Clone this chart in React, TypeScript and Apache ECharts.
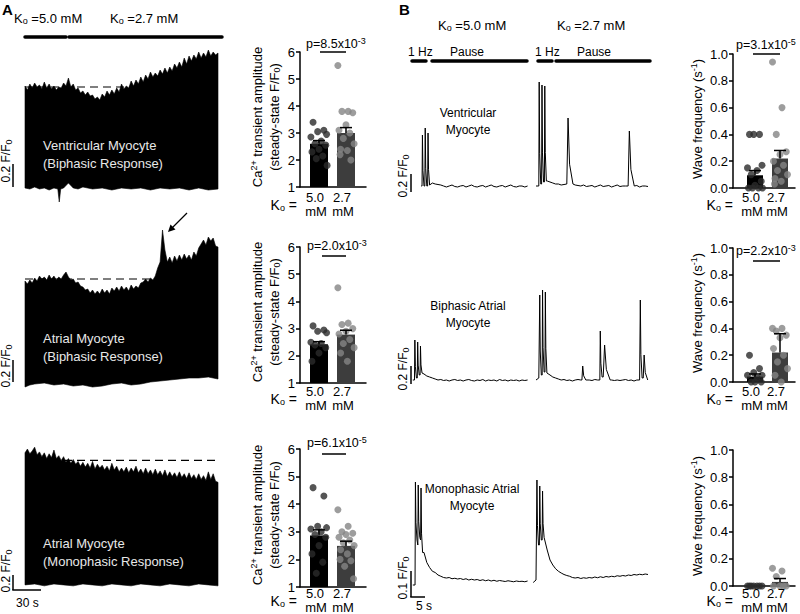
import { useEffect, useRef } from "react";
import * as echarts from "echarts";

const FONT = "'Liberation Sans', Arial, Helvetica, sans-serif";

/* ================= Panel A: long recordings (F/F0 envelopes) ================= */
const ENV_STEP = 2.5; // seconds between upper-envelope samples (0..200 s)
const ventUpper = [
  1.51, 1.49, 1.52, 1.5, 1.525, 1.505, 1.515, 1.495, 1.53, 1.5,
  1.52, 1.495, 1.51, 1.49, 1.505, 1.5, 1.525, 1.51, 1.55, 1.505,
  1.52, 1.49, 1.5, 1.475, 1.485, 1.465, 1.48, 1.46, 1.465, 1.445,
  1.455, 1.44, 1.47, 1.455, 1.485, 1.465, 1.49, 1.47, 1.5, 1.48,
  1.52, 1.495, 1.51, 1.5, 1.535, 1.51, 1.54, 1.52, 1.555, 1.53,
  1.565, 1.545, 1.58, 1.555, 1.575, 1.56, 1.59, 1.57, 1.6, 1.575,
  1.605, 1.585, 1.62, 1.6, 1.63, 1.605, 1.65, 1.62, 1.66, 1.635,
  1.665, 1.645, 1.68, 1.65, 1.675, 1.655, 1.69, 1.66, 1.68, 1.665,
  1.675,
];
const ventLower = [
  [0, 1.0], [5, 0.995], [10, 1.005], [15, 0.995], [20, 1.0], [25, 0.99], [30, 1.0], [34, 0.995],
  [35.5, 0.93], [37, 0.995], [40, 1.0], [45, 1.025], [47, 1.015], [50, 1.0], [55, 0.995], [60, 1.005],
  [70, 0.995], [80, 1.0], [90, 0.99], [100, 1.0], [110, 0.995], [120, 1.0], [130, 0.99], [140, 1.0],
  [150, 0.995], [160, 1.0], [170, 0.99], [180, 1.0], [190, 0.99], [200, 0.995],
];
const ventRef = 1.505;

const atrBiUpper = [
  1.505, 1.49, 1.51, 1.495, 1.52, 1.505, 1.53, 1.515, 1.525, 1.51,
  1.535, 1.515, 1.53, 1.51, 1.525, 1.515, 1.535, 1.55, 1.525, 1.51,
  1.515, 1.495, 1.5, 1.48, 1.475, 1.46, 1.465, 1.445, 1.46, 1.44,
  1.455, 1.44, 1.465, 1.445, 1.46, 1.44, 1.47, 1.455, 1.475, 1.455,
  1.48, 1.46, 1.475, 1.455, 1.485, 1.465, 1.48, 1.47, 1.495, 1.5,
  1.515, 1.5, 1.52, 1.51, 1.53, 1.57, 1.6, 1.76, 1.66, 1.6,
  1.625, 1.595, 1.63, 1.605, 1.635, 1.61, 1.64, 1.615, 1.635, 1.61,
  1.65, 1.63, 1.67, 1.69, 1.71, 1.685, 1.725, 1.705, 1.72, 1.68,
  1.675,
];
const atrBiLower = [
  [0, 0.975], [5, 0.985], [10, 0.99], [20, 0.995], [30, 0.985], [40, 0.99], [50, 0.98], [60, 0.985],
  [70, 0.975], [80, 0.98], [90, 0.99], [100, 0.995], [110, 0.985], [120, 0.99], [130, 1.0], [140, 1.005],
  [150, 1.01], [160, 1.015], [170, 1.02], [180, 1.02], [190, 1.025], [200, 1.015],
];
const atrBiRef = 1.515;

const atrMonoUpper = [
  1.685, 1.705, 1.68, 1.695, 1.715, 1.675, 1.69, 1.665, 1.685, 1.655,
  1.68, 1.66, 1.7, 1.655, 1.67, 1.645, 1.665, 1.635, 1.655, 1.63,
  1.65, 1.625, 1.64, 1.615, 1.635, 1.61, 1.63, 1.605, 1.64, 1.6,
  1.625, 1.605, 1.62, 1.595, 1.615, 1.59, 1.63, 1.595, 1.615, 1.585,
  1.605, 1.585, 1.61, 1.58, 1.605, 1.585, 1.615, 1.58, 1.6, 1.575,
  1.605, 1.575, 1.595, 1.57, 1.6, 1.57, 1.59, 1.565, 1.595, 1.56,
  1.585, 1.56, 1.58, 1.555, 1.585, 1.555, 1.575, 1.55, 1.58, 1.55,
  1.57, 1.545, 1.575, 1.545, 1.565, 1.54, 1.585, 1.545, 1.575, 1.535,
  1.53,
];
const atrMonoLower = [
  [0, 0.99], [10, 0.995], [20, 0.985], [30, 0.995], [40, 0.99], [50, 0.985], [60, 0.995], [70, 0.99],
  [80, 0.985], [90, 0.995], [100, 0.99], [110, 0.985], [120, 0.995], [130, 0.99], [140, 0.985],
  [150, 0.995], [160, 0.99], [170, 0.985], [180, 0.995], [190, 0.99], [200, 0.985],
];
const atrMonoRef = 1.645;

/* ================= Panel B: 1 Hz pacing then pause (F/F0, 1 s baseline samples) ================= */
const bVent1T0 = 4;
const bVent1Base = [
  1.0, 1.0, 1.0, 1.01, 1.03, 1.02, 1.015, 1.01, 1.0, 0.99, 1.0, 1.01, 0.995, 0.99, 1.0, 1.005, 0.99, 1.0, 1.01, 0.995,
  0.99, 1.0, 1.005, 0.99, 1.0, 1.01, 0.995, 0.99, 1.0, 1.005, 0.99, 1.0, 1.01, 0.995, 0.99, 1.0, 1.0, 0.99, 1.0,
];
const bVent1EvT = [4.3, 5.3, 6.3];
const bVent1EvPeak = [1.51, 1.58, 1.53];
const bVent1EvDur = [0.7, 0.7, 0.7];
const bVent2T0 = 45;
const bVent2Base = [
  1.0, 1.0, 1.02, 1.04, 1.05, 1.04, 1.03, 1.02, 1.02, 1.01, 1.015, 1.02, 1.03, 1.02, 1.01, 1.005, 1.0, 1.01, 0.995, 1.0,
  1.005, 0.99, 1.0, 1.01, 0.995, 1.0, 1.005, 0.99, 1.0, 1.01, 0.995, 1.0, 1.0, 1.01, 0.995, 1.0, 1.005, 0.99, 1.0, 1.0,
  0.995,
];
const bVent2EvT = [46, 47, 48, 56, 77.9];
const bVent2EvPeak = [2.04, 2.01, 2.0, 1.68, 1.55];
const bVent2EvDur = [0.7, 0.7, 0.7, 2.2, 2.2];

const bBi1T0 = 1;
const bBi1Base = [
  1.0, 1.02, 1.05, 1.07, 1.06, 1.04, 1.03, 1.02, 1.01, 1.0, 1.005, 0.995, 1.0, 0.99, 1.0, 1.005, 0.995, 1.0, 0.99, 1.0,
  1.005, 0.995, 0.99, 1.0, 0.995, 1.005, 0.99, 1.0, 0.995, 1.0, 0.99, 1.005, 0.995, 1.0, 0.99, 1.0, 0.995, 1.0, 0.99, 1.0,
  0.995, 1.0,
];
const bBi1EvT = [1.6, 2.6, 3.6];
const bBi1EvPeak = [1.4, 1.38, 1.34];
const bBi1EvDur = [0.7, 0.7, 0.7];
const bBi2T0 = 45;
const bBi2Base = [
  1.0, 1.02, 1.05, 1.08, 1.07, 1.05, 1.03, 1.02, 1.01, 1.0, 1.005, 0.995, 1.0, 0.99, 1.0, 1.005, 1.0, 0.995, 1.0, 1.0,
  0.995, 1.005, 1.0, 1.02, 1.03, 1.02, 1.01, 1.0, 0.995, 1.0, 0.995, 1.0, 1.005, 0.995, 1.0, 0.99, 1.0, 1.0, 1.02, 1.01,
  1.0,
];
const bBi2EvT = [46.2, 47.2, 48.2, 61.4, 67.8, 69.0, 82.1, 83.3];
const bBi2EvPeak = [1.85, 1.9, 1.88, 1.14, 1.49, 1.35, 1.8, 1.25];
const bBi2EvDur = [0.7, 0.7, 0.7, 1.4, 0.8, 2.5, 0.8, 1.6];

const bMono1T0 = 1;
const bMono1Base = [
  1.02, 1.18, 1.2, 1.21, 1.15, 1.11, 1.09, 1.075, 1.07, 1.06, 1.055, 1.05,
  1.048, 1.05, 1.045, 1.047, 1.044, 1.046, 1.042, 1.045, 1.04, 1.043,
  1.04, 1.042, 1.038, 1.041, 1.037, 1.04, 1.036, 1.039, 1.035, 1.038,
  1.036, 1.034, 1.037, 1.035, 1.033, 1.036, 1.034, 1.035, 1.033, 1.036,
];
const bMono1EvT = [1.8, 2.8, 3.8];
const bMono1EvPeak = [1.432, 1.42, 1.408];
const bMono1EvDur = [0.7, 0.7, 0.7];
const bMono2T0 = 44;
const bMono2Base = [
  1.03, 1.04, 1.18, 1.2, 1.21, 1.16, 1.12, 1.1, 1.085, 1.075, 1.068, 1.062, 1.058, 1.055, 1.05,
  1.048, 1.05, 1.046, 1.049, 1.047, 1.05, 1.048, 1.052, 1.049, 1.053,
  1.05, 1.054, 1.052, 1.055, 1.053, 1.057, 1.055, 1.058, 1.056, 1.06,
  1.058, 1.062, 1.06, 1.063, 1.061, 1.064, 1.062,
];
const bMono2EvT = [45.2, 46.2, 47.2];
const bMono2EvPeak = [1.44, 1.416, 1.396];
const bMono2EvDur = [0.7, 0.7, 0.7];

/* ================= Summary data ================= */
const groupLabels = ["5.0", "2.7"];
const ampVent50 = [3.4, 3.1, 3.05, 2.95, 2.85, 2.7, 2.6, 2.55, 2.4, 2.3, 2.15, 2.05, 1.8];
const ampVent27 = [5.5, 3.8, 3.8, 3.75, 3.3, 3.1, 3.0, 2.8, 2.6, 2.4, 2.35, 2.2, 2.0];
const ampVentMean = [2.6, 3.0];
const ampVentSem = [0.12, 0.2];
const ampAtrBi50 = [3.1, 2.95, 2.9, 2.85, 2.5, 2.45, 2.4, 2.3, 2.1, 1.8];
const ampAtrBi27 = [4.5, 3.2, 3.15, 3.0, 2.9, 2.8, 2.6, 2.45, 2.3, 2.1, 1.8];
const ampAtrBiMean = [2.42, 2.78];
const ampAtrBiSem = [0.1, 0.16];
const ampAtrMono50 = [4.6, 4.3, 3.2, 3.15, 3.1, 3.0, 2.9, 2.8, 2.5, 2.2, 1.9, 1.5];
const ampAtrMono27 = [3.8, 3.2, 3.0, 2.95, 2.9, 2.8, 2.7, 2.6, 2.5, 2.35, 2.2, 2.0, 1.95, 1.75, 1.3];
const ampAtrMonoMean = [2.87, 2.49];
const ampAtrMonoSem = [0.2, 0.17];

const freqVent50 = [0.4, 0.4, 0.4, 0.17, 0.15, 0.13, 0.1, 0.05, 0.02, 0, 0, 0, 0];
const freqVent27 = [0.94, 0.6, 0.4, 0.27, 0.25, 0.2, 0.17, 0.13, 0.1, 0.07, 0.05, 0.03];
const freqVentMean = [0.095, 0.22];
const freqVentSem = [0.035, 0.06];
const freqAtrBi50 = [0.2, 0.1, 0.07, 0.05, 0.05, 0.03, 0, 0, 0];
const freqAtrBi27 = [0.4, 0.4, 0.38, 0.35, 0.33, 0.25, 0.2, 0.15, 0.1, 0.05, 0];
const freqAtrBiMean = [0.04, 0.22];
const freqAtrBiSem = [0.02, 0.14];
const freqAtrMono50 = [0, 0, 0, 0, 0, 0, 0];
const freqAtrMono27 = [0.13, 0.11, 0.07, 0, 0, 0, 0];
const freqAtrMonoMean = [0, 0.03];
const freqAtrMonoSem = [0, 0.025];

const pAmp = [["8.5", "-3"], ["2.0", "-3"], ["6.1", "-5"]];
const pFreq = [["3.1", "-5"], ["2.2", "-3"]];

/* ================= Layout / style ================= */
const JITTER = [-0.22, 0.18, -0.05, 0.28, -0.3, 0.08, -0.15, 0.25, 0.0, -0.26, 0.14, -0.1, 0.3, -0.2, 0.05];
const RICH = {
  sub: { fontSize: 9, fontFamily: FONT, fill: "#000", padding: [5, 0, 0, 0] },
  sup: { fontSize: 9, fontFamily: FONT, fill: "#000", padding: [0, 0, 6, 0] },
};

function buildSegment(t0: number, base: number[], evT: number[], evPeak: number[], evDur: number[]) {
  const pts: number[][] = [];
  const clampIdx = (i: number) => Math.max(0, Math.min(base.length - 1, i));
  base.forEach((v, i) => {
    const t = t0 + i;
    if (evT.some((e, j) => t > e && t < e + evDur[j])) return;
    pts.push([t, v]);
  });
  evT.forEach((e, j) => {
    const d = evDur[j];
    const b0 = base[clampIdx(Math.floor(e - t0 + 1e-9))];
    const b1 = base[clampIdx(Math.round(e + d - t0))];
    const p = evPeak[j];
    pts.push([e, b0], [e + d * 0.2, p], [e + d * 0.45, b1 + (p - b1) * 0.3], [e + d, b1]);
  });
  pts.sort((a, b) => a[0] - b[0]);
  return pts;
}

function txt(x: number, y: number, text: string, opts: any = {}) {
  const align = opts.align || "left";
  return {
    type: "text",
    x,
    y,
    rotation: opts.rotation || 0,
    z: 50,
    silent: true,
    style: {
      text,
      fill: opts.fill || "#000",
      fontSize: opts.fontSize || 13,
      fontWeight: opts.fontWeight || "normal",
      fontFamily: FONT,
      align,
      verticalAlign: "middle",
      textAlign: align,
      textVerticalAlign: "middle",
      rich: RICH,
    },
  };
}
function seg(x1: number, y1: number, x2: number, y2: number, w = 1.5) {
  return { type: "line", z: 50, silent: true, shape: { x1, y1, x2, y2 }, style: { stroke: "#000", lineWidth: w, lineCap: "butt" } };
}
function thick(x1: number, x2: number, y: number) {
  return { type: "line", z: 50, silent: true, shape: { x1, y1: y, x2, y2: y }, style: { stroke: "#000", lineWidth: 3.5, lineCap: "round" } };
}

function buildOption() {
  const grids: any[] = [];
  const xAxes: any[] = [];
  const yAxes: any[] = [];
  const series: any[] = [];
  const g: any[] = [];

  const traceGrid = (left: number, width: number, xMax: number, basePx: number, k: number, min: number, max: number) => {
    const idx = grids.length;
    grids.push({ left, width, top: basePx - (max - 1) * k, height: (max - min) * k });
    xAxes.push({ gridIndex: idx, type: "value", min: 0, max: xMax, show: false });
    yAxes.push({ gridIndex: idx, type: "value", min, max, show: false });
    return idx;
  };

  const envelope = (gi: number, upper: number[], lower: number[][], refLevel: number) => {
    series.push({
      type: "custom",
      xAxisIndex: gi,
      yAxisIndex: gi,
      data: [[0, 1]],
      z: 2,
      silent: true,
      renderItem: (_p: any, api: any) => {
        const pts = upper.map((v, i) => api.coord([i * ENV_STEP, v]));
        for (let j = lower.length - 1; j >= 0; j--) pts.push(api.coord(lower[j]));
        return { type: "polygon", shape: { points: pts }, style: { fill: "#000", stroke: "#000", lineWidth: 0.6 } };
      },
    });
    series.push({
      type: "line",
      xAxisIndex: gi,
      yAxisIndex: gi,
      data: [[0, refLevel], [200, refLevel]],
      symbol: "none",
      z: 3,
      silent: true,
      lineStyle: { color: "#000", width: 1.2, type: [8, 5] },
    });
  };

  const trace = (gi: number, pts: number[][]) => {
    series.push({
      type: "line",
      xAxisIndex: gi,
      yAxisIndex: gi,
      data: pts,
      symbol: "none",
      silent: true,
      z: 3,
      lineStyle: { color: "#000", width: 1 },
    });
  };

  // Panel A traces
  const gA1 = traceGrid(25, 193, 200, 188, 200, 0.9, 1.75);
  envelope(gA1, ventUpper, ventLower, ventRef);
  const gA2 = traceGrid(25, 193, 200, 382, 200, 0.95, 1.8);
  envelope(gA2, atrBiUpper, atrBiLower, atrBiRef);
  const gA3 = traceGrid(25, 193, 200, 583, 190, 0.95, 1.75);
  envelope(gA3, atrMonoUpper, atrMonoLower, atrMonoRef);

  // Panel B traces
  const gB1 = traceGrid(410, 245, 87.5, 186, 100, 0.85, 2.15);
  trace(gB1, buildSegment(bVent1T0, bVent1Base, bVent1EvT, bVent1EvPeak, bVent1EvDur));
  trace(gB1, buildSegment(bVent2T0, bVent2Base, bVent2EvT, bVent2EvPeak, bVent2EvDur));
  const gB2 = traceGrid(410, 245, 87.5, 380, 100, 0.9, 2.0);
  trace(gB2, buildSegment(bBi1T0, bBi1Base, bBi1EvT, bBi1EvPeak, bBi1EvDur));
  trace(gB2, buildSegment(bBi2T0, bBi2Base, bBi2EvT, bBi2EvPeak, bBi2EvDur));
  const gB3 = traceGrid(410, 245, 87.5, 590, 250, 0.96, 1.5);
  trace(gB3, buildSegment(bMono1T0, bMono1Base, bMono1EvT, bMono1EvPeak, bMono1EvDur));
  trace(gB3, buildSegment(bMono2T0, bMono2Base, bMono2EvT, bMono2EvPeak, bMono2EvDur));

  // Summary charts
  const summary = (
    left: number, width: number, top: number, height: number, c0: number, unit: number,
    yMin: number, yMax: number, interval: number, decimals: number,
    p50: number[], p27: number[], mean: number[], sem: number[], halfW: number
  ) => {
    const idx = grids.length;
    const xMin = (left - c0) / unit;
    grids.push({ left, width, top, height });
    xAxes.push({
      gridIndex: idx, type: "value", min: xMin, max: xMin + width / unit,
      axisLine: { show: true, onZero: false, lineStyle: { color: "#000", width: 1.5 } },
      axisTick: { show: false }, axisLabel: { show: false }, splitLine: { show: false },
    });
    yAxes.push({
      gridIndex: idx, type: "value", min: yMin, max: yMax, interval,
      axisLine: { show: true, onZero: false, lineStyle: { color: "#000", width: 1.5 } },
      axisTick: { show: true, length: 4, lineStyle: { color: "#000", width: 1.5 } },
      axisLabel: { color: "#000", fontSize: 13, fontFamily: FONT, margin: 5, formatter: (v: number) => v.toFixed(decimals) },
      splitLine: { show: false },
    });
    const barColors = ["#000", "#3d3d3d"];
    series.push({
      type: "custom", xAxisIndex: idx, yAxisIndex: idx, silent: true, z: 2,
      data: mean.map((m, i) => [i, m]),
      renderItem: (params: any, api: any) => {
        const x = api.value(0), m = api.value(1);
        const p = api.coord([x, m]);
        const b = api.coord([x, yMin]);
        return { type: "rect", shape: { x: p[0] - halfW, y: p[1], width: 2 * halfW, height: b[1] - p[1] }, style: { fill: barColors[params.dataIndex] } };
      },
    });
    series.push({
      type: "scatter", xAxisIndex: idx, yAxisIndex: idx, silent: true, z: 3, clip: false,
      symbolSize: 7, itemStyle: { color: "#2b2b2b" },
      data: p50.map((v, i) => [JITTER[i % JITTER.length], v]),
    });
    series.push({
      type: "scatter", xAxisIndex: idx, yAxisIndex: idx, silent: true, z: 3, clip: false,
      symbolSize: 7, itemStyle: { color: "#858585" },
      data: p27.map((v, i) => [1 + JITTER[(i + 4) % JITTER.length], v]),
    });
    series.push({
      type: "custom", xAxisIndex: idx, yAxisIndex: idx, silent: true, z: 4,
      data: mean.map((m, i) => [i, m, sem[i]]),
      renderItem: (_p: any, api: any) => {
        const x = api.value(0), m = api.value(1), s = api.value(2);
        if (!(s > 0)) return null;
        const a = api.coord([x, m]);
        const b = api.coord([x, m + s]);
        return {
          type: "group",
          children: [
            { type: "line", shape: { x1: a[0], y1: a[1], x2: b[0], y2: b[1] }, style: { stroke: "#000", lineWidth: 1.5 } },
            { type: "line", shape: { x1: b[0] - 6, y1: b[1], x2: b[0] + 6, y2: b[1] }, style: { stroke: "#000", lineWidth: 1.5 } },
          ],
        };
      },
    });
  };

  summary(300, 66, 52, 135, 319, 27, 1, 6, 1, 0, ampVent50, ampVent27, ampVentMean, ampVentSem, 9);
  summary(300, 66, 247, 136, 319, 27, 1, 6, 1, 0, ampAtrBi50, ampAtrBi27, ampAtrBiMean, ampAtrBiSem, 9);
  summary(300, 66, 449, 138, 319, 27, 1, 6, 1, 0, ampAtrMono50, ampAtrMono27, ampAtrMonoMean, ampAtrMonoSem, 9);
  summary(733, 62, 54, 134, 755, 25, 0, 1, 0.2, 1, freqVent50, freqVent27, freqVentMean, freqVentSem, 8);
  summary(733, 62, 248, 134, 755, 25, 0, 1, 0.2, 1, freqAtrBi50, freqAtrBi27, freqAtrBiMean, freqAtrBiSem, 8);
  summary(733, 62, 450, 136, 755, 25, 0, 1, 0.2, 1, freqAtrMono50, freqAtrMono27, freqAtrMonoMean, freqAtrMonoSem, 8);

  /* ---------- Annotations ---------- */
  g.push(txt(2, 9, "A", { fontSize: 15, fontWeight: "bold" }));
  g.push(txt(399, 9, "B", { fontSize: 15, fontWeight: "bold" }));

  // Panel A header
  g.push(txt(14, 18, "K{sub|o} =5.0 mM"));
  g.push(txt(110, 18, "K{sub|o} =2.7 mM"));
  g.push(thick(25, 66, 37), thick(69, 222, 37));

  // Panel A scale bars
  const rot = { rotation: Math.PI / 2, align: "center", fontSize: 12 };
  g.push(seg(13, 164, 13, 187), txt(6, 161, "0.2 F/F{sub|0}", rot));
  g.push(seg(13, 360, 13, 382), txt(6, 366, "0.2 F/F{sub|0}", rot));
  g.push(seg(13, 575, 13, 590), seg(12.25, 590, 41, 590), txt(6, 571, "0.2 F/F{sub|0}", rot));
  g.push(txt(16, 603, "30 s", { fontSize: 12 }));

  // Panel A labels inside traces
  const white = { fill: "#e8e8e8", fontSize: 13 };
  g.push(txt(43, 145, "Ventricular Myocyte", white), txt(43, 163, "(Biphasic Response)", white));
  g.push(txt(43, 338, "Atrial Myocyte", white), txt(43, 356, "(Biphasic Response)", white));
  g.push(txt(43, 543, "Atrial Myocyte", white), txt(43, 561, "(Monophasic Response)", white));

  // Arrow (middle trace)
  g.push(seg(187, 213, 172, 228, 1.2));
  g.push({ type: "polygon", z: 50, silent: true, shape: { points: [[168, 232], [175.5, 229.5], [170.5, 224.5]] }, style: { fill: "#000" } });

  // Panel B header
  g.push(txt(438, 25, "K{sub|o} =5.0 mM"), txt(557, 25, "K{sub|o} =2.7 mM"));
  g.push(txt(408, 52, "1 Hz", { fontSize: 12 }), txt(450, 52, "Pause", { fontSize: 12 }));
  g.push(txt(535, 52, "1 Hz", { fontSize: 12 }), txt(577, 52, "Pause", { fontSize: 12 }));
  g.push(thick(412, 426, 61), thick(432, 527, 61), thick(538, 552, 61), thick(556, 650, 61));

  // Panel B scale bars (rotated labels left of the bars)
  g.push(seg(411, 174, 411, 192), txt(403, 176, "0.2 F/F{sub|0}", rot));
  g.push(seg(411, 366, 411, 384), txt(403, 369, "0.2 F/F{sub|0}", rot));
  g.push(seg(411, 571, 411, 597), seg(410.25, 597, 425, 597), txt(403, 578, "0.1 F/F{sub|0}", rot));
  g.push(txt(416, 606, "5 s", { fontSize: 12 }));

  // Panel B cell labels
  g.push(txt(468, 113, "Ventricular", { align: "center", fontSize: 12 }), txt(468, 130, "Myocyte", { align: "center", fontSize: 12 }));
  g.push(txt(468, 306, "Biphasic Atrial", { align: "center", fontSize: 12 }), txt(468, 323, "Myocyte", { align: "center", fontSize: 12 }));
  g.push(txt(472, 489, "Monophasic Atrial", { align: "center", fontSize: 12 }), txt(472, 506, "Myocyte", { align: "center", fontSize: 12 }));

  // Summary chart titles, x labels and p values
  const ampTitleY = [117, 312, 515];
  const freqTitleY = [119, 313, 516];
  const labelRowY = [197, 391, 593];
  ampTitleY.forEach((y) => {
    g.push(txt(257, y, "Ca{sup|2+} transient amplitude", { rotation: Math.PI / 2, align: "center" }));
    g.push(txt(274, y, "(steady-state F/F{sub|0})", { rotation: Math.PI / 2, align: "center" }));
  });
  freqTitleY.forEach((y) => g.push(txt(697, y, "Wave frequency (s{sup|-1})", { rotation: Math.PI / 2, align: "center" })));
  const xLabels = (c0: number, c1: number, y: number) => {
    g.push(txt(c0 - 22, y + 8, "K{sub|o} =", { align: "right", fontSize: 14 }));
    g.push(txt(c0 - 4, y, groupLabels[0], { align: "center" }), txt(c0 - 3, y + 14, "mM", { align: "center" }));
    g.push(txt(c1 - 4, y, groupLabels[1], { align: "center" }), txt(c1 - 3, y + 14, "mM", { align: "center" }));
  };
  labelRowY.forEach((y) => {
    xLabels(319, 346, y);
    xLabels(755, 780, y);
  });
  const pLabel = (x: number, y: number, lx1: number, lx2: number, ly: number, p: string[]) => {
    g.push(txt(x, y, `p=${p[0]}x10{sup|${p[1]}}`, { fontSize: 12.5 }), seg(lx1, ly, lx2, ly, 1.5));
  };
  pLabel(306, 44, 320, 346, 52, pAmp[0]);
  pLabel(307, 246, 322, 346, 256, pAmp[1]);
  pLabel(307, 443, 322, 346, 454, pAmp[2]);
  pLabel(736, 45, 753, 780, 54, pFreq[0]);
  pLabel(736, 251, 753, 780, 261, pFreq[1]);

  return {
    animation: false,
    backgroundColor: "#fff",
    grid: grids,
    xAxis: xAxes,
    yAxis: yAxes,
    series,
    graphic: { elements: g },
  };
}

export default function App() {
  const ref = useRef<HTMLDivElement>(null);
  useEffect(() => {
    const chart = echarts.init(ref.current!, null, { renderer: "svg" });
    chart.setOption(buildOption() as any);
    return () => chart.dispose();
  }, []);
  return (
    <div
      ref={ref}
      style={{ position: "absolute", left: 0, top: 0, width: 800, height: 614, background: "#fff" }}
    />
  );
}
